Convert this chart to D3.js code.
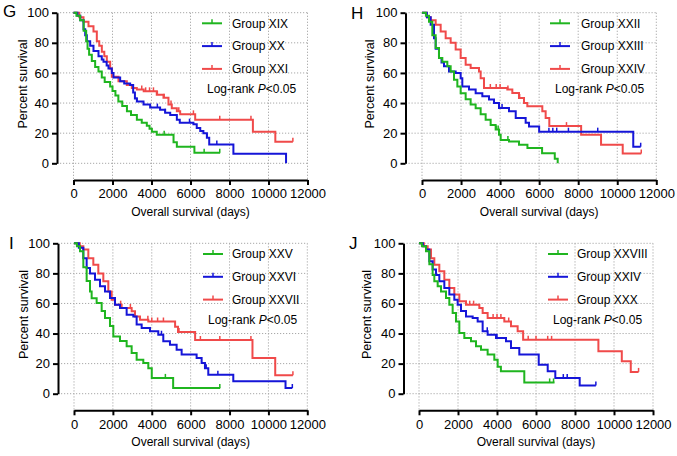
<!DOCTYPE html>
<html>
<head>
<meta charset="utf-8">
<script src="https://cdn.jsdelivr.net/npm/d3@7"></script>
<style>
  html, body { margin: 0; padding: 0; background: #fff; }
  svg { display: block; }
  text { font-family: "Liberation Sans", Arial, Helvetica, sans-serif; }
</style>
</head>
<body>
<svg id="chart" width="677" height="456"></svg>
<script>
// ---------- DATA ----------
const xTicks = [0, 2000, 4000, 6000, 8000, 10000, 12000];
const yTicks = [0, 20, 40, 60, 80, 100];
const xTitle = "Overall survival (days)";
const yTitle = "Percent survival";
const panelLetters = ["G", "H", "I", "J"];
const groupNames = [
  ["Group XIX", "Group XX", "Group XXI"],
  ["Group XXII", "Group XXIII", "Group XXIV"],
  ["Group XXV", "Group XXVI", "Group XXVII"],
  ["Group XXVIII", "Group XXIV", "Group XXX"]
];
const pText = "<0.05";

// Kaplan-Meier steps: [time (days), survival (%) after the step]
const gXIX = [[0,100],[150,98],[340,95],[520,88],[650,81],[720,76],[800,72],[940,68],[1110,64],[1280,61],[1450,57],[1600,54],[1880,51],[2000,48],[2150,45],[2300,41],[2500,38],[2740,34.5],[2950,32],[3250,29],[3500,27],[3760,25],[3900,23],[4020,21],[4270,19],[5130,14],[5300,11],[6200,7]];
const gXX = [[0,100],[200,98],[350,95],[513,89],[600,85],[684,81],[855,78],[1025,74.5],[1282,71],[1450,69],[1538,67.5],[1700,65],[1794,63],[1965,60],[2050,57],[2393,54.5],[2600,53],[2905,52],[3060,47],[3150,43],[3250,41],[3590,39],[3930,37],[4440,35.5],[4700,33.5],[4960,32],[5300,29],[5450,27],[6150,26],[6320,23.5],[6500,21.5],[6660,20],[6840,17],[6960,12.5],[8200,6.3],[10900,0]];
const gXXI = [[0,100],[300,97],[513,94],[769,91],[1025,87.5],[1196,81],[1320,78],[1453,74],[1580,71],[1709,67.5],[1880,63],[1965,57.5],[2307,54.5],[2734,52],[2990,50],[3247,49],[3600,47.8],[4270,45.5],[4614,43.5],[4870,39],[5040,36.5],[5300,34.5],[5470,32.5],[6240,29],[9200,21],[10350,14.3]];

const hXXII = [[0,100],[200,98],[358,94],[529,85],[700,76.5],[870,70],[1041,67.5],[1297,64.5],[1468,61],[1639,55.5],[1810,51],[1980,46.5],[2236,42.5],[2492,39],[2748,36.5],[3004,32.5],[3260,29],[3516,25.5],[3772,22.5],[3943,19],[4030,15.5],[4455,14.5],[4967,12.4],[5400,10.2],[6150,6.6],[6800,3],[6950,0]];
const hXXIII = [[0,100],[250,97],[444,92],[615,83],[700,76],[870,70],[1000,67],[1127,64.5],[1383,61],[1724,60],[1980,56.5],[2065,51],[2407,49],[2748,46.5],[3090,44.5],[3431,42.3],[3687,40],[3943,36.7],[4455,34.5],[4800,30],[5309,27],[5480,24.5],[6000,21],[10820,11]];
const hXXIV = [[0,100],[250,97],[444,95],[700,92],[956,87.5],[1212,83],[1468,80],[1724,75.5],[1980,70],[2236,65.5],[2492,63.3],[2919,61],[3004,56.5],[3175,50],[4370,49],[4626,46.7],[4967,43.4],[5224,40],[5394,37.8],[6162,34.5],[6333,30],[6520,24.7],[8150,19],[9170,12.3],[10280,6.5]];

const iXXV = [[0,100],[150,98],[309,94.7],[480,84],[651,75],[823,68],[908,63.5],[1165,60.3],[1423,55],[1594,50.3],[1851,45],[2023,38],[2365,35],[2708,31.5],[2965,27],[3222,22.6],[3565,20.4],[3822,17],[4000,10.5],[5100,3.8]];
const iXXVI = [[0,100],[250,97],[480,90],[651,83.5],[823,80],[1080,75.8],[1337,71.4],[1594,68],[1851,63.6],[2108,59.2],[2365,57],[2708,52.5],[3051,51.4],[3222,46],[3480,43.7],[3908,41.5],[4336,39.2],[4593,34.8],[4936,32.6],[5279,29.3],[5536,26],[6307,23.7],[6565,20.4],[6736,17],[6907,12.6],[8193,8.2],[10880,3.8]];
const iXXVII = [[0,100],[300,98],[480,95.8],[737,90],[994,85.8],[1251,80],[1508,74.7],[1765,68],[1937,62.5],[2108,59.2],[2451,57],[2965,54.8],[3137,51.4],[3394,49.2],[3822,48],[5200,44.5],[5350,41],[6230,35.7],[9180,23.7],[10350,12.3]];

const jXXVIII = [[0,100],[150,98],[359,94.7],[530,86],[700,79],[786,74.7],[957,71.4],[1128,68],[1384,63.6],[1555,59.2],[1726,53.7],[1897,48],[2068,40.4],[2324,37],[2666,34.8],[2922,31.5],[3179,29.3],[3520,26],[3862,22.6],[4033,18],[4200,15],[5400,7.5]];
const jXXIV = [[0,100],[200,98],[359,95.8],[530,88],[700,82.5],[872,79],[1042,74.7],[1299,70.3],[1555,66],[1811,62.5],[1982,59.2],[2153,55],[2410,51.4],[2752,50.3],[3008,48],[3264,41.5],[3520,39.2],[3948,37],[4461,34.8],[4717,30.4],[5144,26],[6140,19.3],[6600,15],[6990,10.4],[8240,5.5]];
const jXXX = [[0,100],[250,98],[444,95.8],[615,90],[786,85.8],[1042,81.4],[1299,75.8],[1555,70.3],[1811,66],[2068,61.4],[2410,59.2],[3094,57],[3264,53.7],[3520,50.3],[4375,48],[4717,44.8],[5059,41.5],[5340,35.8],[9200,28.2],[10400,21.5],[10860,14.5]];

// last follow-up time of each curve
const endTimes = [
  [7520, 10900, 11250],
  [6950, 11200, 11230],
  [7520, 11230, 11260],
  [6950, 9070, 11260]
];
// censored observations (days)
const censorTimes = [
  [[4650, 6700, 7500], [3250, 4300, 4700, 5950, 6850, 7350], [3500, 3700, 3900, 4100, 4300, 4650, 5000, 5400, 6150, 7500, 9100, 11250]],
  [[3800, 3900, 4400], [4100, 6500, 6700, 6900, 7500, 9000, 11200], [3500, 3800, 4000, 4400, 5000, 7400, 11230]],
  [[4700, 7500], [4500, 6800, 7400, 11230], [2400, 2900, 3800, 4000, 4300, 4600, 5400, 6500, 7500, 9100, 11260]],
  [[6700, 6900], [3500, 4000, 7400, 7600, 9070], [2600, 2800, 3800, 4000, 4200, 4600, 5600, 6000, 6600, 6800, 11260]]
];
const curves = [
  [gXIX, gXX, gXXI],
  [hXXII, hXXIII, hXXIV],
  [iXXV, iXXVI, iXXVII],
  [jXXVIII, jXXIV, jXXX]
];

// ---------- STYLE / LAYOUT ----------
const colors = ["#1fb51f", "#1515d8", "#f04a4a"];
const layouts = [
  {yAxisX: 57,    x0: 73.5,  x1: 307.5, yTop: 12.7,  yBot: 163.3, xAxisY: 180,   lx: 202, tx: 232, ly0: 23.3, lr: 207, lry: 88.3, letX: 3,   letY: 17, ytx: 23},
  {yAxisX: 405.5, x0: 422,   x1: 656.3, yTop: 12.7,  yBot: 163.3, xAxisY: 180,   lx: 550, tx: 581, ly0: 23.3, lr: 555, lry: 88.3, letX: 351, letY: 19, ytx: 370},
  {yAxisX: 58,    x0: 74,    x1: 307.3, yTop: 243.3, yBot: 393.7, xAxisY: 410.3, lx: 203, tx: 232, ly0: 254,  lr: 208, lry: 319.7, letX: 9, letY: 249, ytx: 24},
  {yAxisX: 403.5, x0: 419,   x1: 653,   yTop: 243.3, yBot: 393.7, xAxisY: 410.3, lx: 548, tx: 577, ly0: 254,  lr: 553, lry: 319.7, letX: 349, letY: 249, ytx: 367}
];
const legendGap = 22.8;
const fontStack = '"Liberation Sans", Arial, sans-serif';

const svg = d3.select("#chart");
svg.append("rect").attr("width", 677).attr("height", 456).attr("fill", "#fff");

function survAt(steps, t) {
  let s = steps[0][1];
  for (const d of steps) { if (d[0] <= t) s = d[1]; else break; }
  return s;
}

layouts.forEach((L, pi) => {
  const g = svg.append("g");
  const x = d3.scaleLinear().domain([0, 12000]).range([L.x0, L.x1]);
  const y = d3.scaleLinear().domain([0, 100]).range([L.yBot, L.yTop]);

  // grid
  g.append("g").selectAll("line").data(yTicks).join("line")
    .attr("x1", L.yAxisX).attr("x2", x(12000))
    .attr("y1", d => y(d)).attr("y2", d => y(d))
    .attr("stroke", "#a8a8a8").attr("stroke-width", 1).attr("stroke-dasharray", "1.2,1.8");
  g.append("g").selectAll("line").data(xTicks).join("line")
    .attr("x1", d => x(d)).attr("x2", d => x(d))
    .attr("y1", y(100)).attr("y2", L.xAxisY)
    .attr("stroke", "#a8a8a8").attr("stroke-width", 1).attr("stroke-dasharray", "1.2,1.8");

  // axes
  const ya = g.append("g").attr("transform", `translate(${L.yAxisX},0)`)
    .call(d3.axisLeft(y).tickValues(yTicks).tickSize(5).tickSizeOuter(0).tickPadding(3));
  const xa = g.append("g").attr("transform", `translate(0,${L.xAxisY})`)
    .call(d3.axisBottom(x).tickValues(xTicks).tickFormat(d3.format("d")).tickSize(5).tickSizeOuter(0).tickPadding(4));
  [ya, xa].forEach(a => {
    a.attr("font-family", fontStack).attr("font-size", 13);
    a.select(".domain").attr("stroke", "#000").attr("stroke-width", 2);
    a.selectAll(".tick line").attr("stroke", "#000").attr("stroke-width", 2);
    a.selectAll(".tick text").attr("fill", "#000");
  });

  // axis titles
  g.append("text").attr("x", (L.x0 + L.x1) / 2).attr("y", L.xAxisY + 36)
    .attr("text-anchor", "middle").style("font-size", "12px").text(xTitle);
  g.append("text").attr("transform", `translate(${L.ytx},${(L.yTop + L.yBot) / 2 - 4}) rotate(-90)`)
    .attr("text-anchor", "middle").attr("dy", "0.35em").style("font-size", "12.5px").text(yTitle);

  // panel letter
  g.append("text").attr("x", L.letX).attr("y", L.letY).style("font-size", "17px").text(panelLetters[pi]);

  // curves
  const line = d3.line().x(d => x(d[0])).y(d => y(d[1])).curve(d3.curveStepAfter);
  [2, 1, 0].forEach(ci => {
    const steps = curves[pi][ci];
    const pts = steps.concat([[endTimes[pi][ci], steps[steps.length - 1][1]]]);
    g.append("path").attr("d", line(pts)).attr("fill", "none")
      .attr("stroke", colors[ci]).attr("stroke-width", 2);
    g.append("g").selectAll("line").data(censorTimes[pi][ci]).join("line")
      .attr("x1", d => x(d)).attr("x2", d => x(d))
      .attr("y1", d => y(survAt(steps, d))).attr("y2", d => y(survAt(steps, d)) - 4)
      .attr("stroke", colors[ci]).attr("stroke-width", 1.5);
  });

  // legend
  groupNames[pi].forEach((name, ci) => {
    const ly = L.ly0 + ci * legendGap;
    g.append("line").attr("x1", L.lx).attr("x2", L.lx + 20).attr("y1", ly).attr("y2", ly)
      .attr("stroke", colors[ci]).attr("stroke-width", 2);
    g.append("line").attr("x1", L.lx + 10).attr("x2", L.lx + 10).attr("y1", ly).attr("y2", ly - 4)
      .attr("stroke", colors[ci]).attr("stroke-width", 1.5);
    g.append("text").attr("x", L.tx).attr("y", ly).attr("dy", "0.35em")
      .style("font-size", "12px").text(name);
  });
  const lr = g.append("text").attr("x", L.lr).attr("y", L.lry).attr("dy", "0.35em").style("font-size", "12px");
  lr.append("tspan").text("Log-rank ");
  lr.append("tspan").style("font-style", "italic").text("P");
  lr.append("tspan").text(pText);
});
</script>
</body>
</html>
